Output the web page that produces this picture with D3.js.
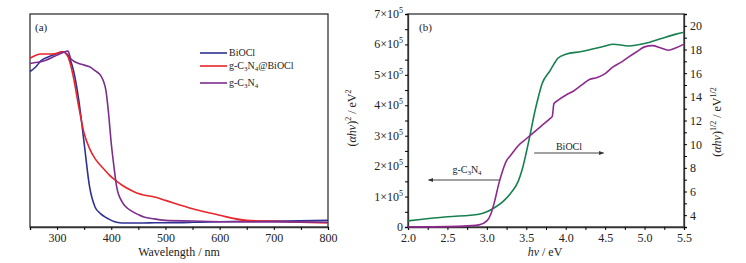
<!DOCTYPE html>
<html>
<head>
<meta charset="utf-8">
<script src="https://cdn.jsdelivr.net/npm/d3@7"></script>
<style>
  body { margin: 0; background: #fff; }
  text { font-family: "Liberation Serif", "Times New Roman", serif; fill: #222; }
</style>
</head>
<body>
<div id="chart"></div>
<script>
// panel (a): UV-vis absorbance, arbitrary units
const wl = [250, 260, 270, 290, 300, 310, 320, 325, 330, 340, 350, 360, 370, 380, 390, 395, 400, 405, 410, 420, 440, 450, 460, 480, 500, 550, 580, 600, 650, 700, 800];
const absBiOCl = [0.73, 0.75, 0.78, 0.805, 0.815, 0.823, 0.807, 0.78, 0.737, 0.596, 0.392, 0.188, 0.094, 0.063, 0.045, 0.038, 0.031, 0.026, 0.022, 0.019, 0.019, 0.019, 0.019, 0.02, 0.02, 0.022, 0.024, 0.025, 0.027, 0.028, 0.031];
const absComposite = [0.792, 0.805, 0.812, 0.812, 0.815, 0.823, 0.8, 0.76, 0.705, 0.564, 0.439, 0.368, 0.321, 0.29, 0.262, 0.248, 0.235, 0.225, 0.215, 0.196, 0.168, 0.157, 0.15, 0.141, 0.125, 0.086, 0.067, 0.055, 0.031, 0.027, 0.019];
const absGCN = [0.768, 0.772, 0.776, 0.795, 0.807, 0.818, 0.826, 0.792, 0.78, 0.768, 0.76, 0.752, 0.734, 0.713, 0.643, 0.533, 0.392, 0.282, 0.188, 0.118, 0.071, 0.058, 0.047, 0.038, 0.031, 0.028, 0.026, 0.025, 0.024, 0.024, 0.022];

// panel (b): Tauc plots
const evBi = [2.0, 2.5, 2.9, 3.0, 3.1, 3.2, 3.3, 3.4, 3.45, 3.5, 3.55, 3.6, 3.65, 3.7, 3.8, 3.85, 3.9, 4.0, 4.2, 4.5, 4.6, 4.8, 5.0, 5.2, 5.4, 5.5];
const taucBiOCl = [3.52, 3.86, 4.08, 4.28, 4.65, 5.13, 5.83, 6.9, 7.9, 9.3, 10.85, 12.5, 13.9, 15.1, 16.2, 16.76, 17.26, 17.6, 17.83, 18.3, 18.45, 18.3, 18.5, 18.9, 19.3, 19.45];
const evCN = [2.0, 2.7, 2.9, 3.0, 3.05, 3.1, 3.15, 3.2, 3.25, 3.3, 3.4, 3.5, 3.6, 3.7, 3.8, 3.83, 3.85, 3.9, 4.0, 4.1, 4.2, 4.3, 4.4, 4.5, 4.6, 4.7, 4.8, 4.9, 5.0, 5.1, 5.2, 5.3, 5.4, 5.5];
const taucGCN = [0, 0.03, 0.07, 0.2, 0.42, 0.86, 1.41, 1.85, 2.18, 2.35, 2.68, 2.9, 3.12, 3.34, 3.56, 3.64, 4.05, 4.16, 4.33, 4.47, 4.66, 4.85, 4.91, 5.04, 5.26, 5.41, 5.59, 5.76, 5.92, 5.96, 5.89, 5.81, 5.89, 6.01];

const wlTicks = [300, 400, 500, 600, 700, 800];
const evTicks = [2.0, 2.5, 3.0, 3.5, 4.0, 4.5, 5.0, 5.5];
const leftTicks = [0, 1, 2, 3, 4, 5, 6, 7];
const rightTicks = [4, 6, 8, 10, 12, 14, 16, 18, 20];

const legendItems = [
  { name: "BiOCl", color: "#2e3192" },
  { name: "composite", color: "#e8262b" },
  { name: "gcn", color: "#7b2e8e" }
];

const svg = d3.select("#chart").append("svg")
  .attr("width", 746).attr("height", 263);

// writes g-C3N4 with subscripts into a text element
function gcn(t, sub) {
  t.append("tspan").text("g-C");
  t.append("tspan").attr("font-size", sub).attr("dy", 2).text("3");
  t.append("tspan").attr("dy", -2).text("N");
  t.append("tspan").attr("font-size", sub).attr("dy", 2).text("4");
  return t;
}

// ---------- panel (a)
const a = { left: 30, right: 328, top: 14, bottom: 227 };
const xa = d3.scaleLinear().domain([250, 800]).range([a.left, a.right]);
const ya = d3.scaleLinear().domain([0, 1]).range([a.bottom, a.top]);

const ga = svg.append("g");
ga.append("rect")
  .attr("x", a.left).attr("y", a.top)
  .attr("width", a.right - a.left).attr("height", a.bottom - a.top)
  .attr("fill", "none").attr("stroke", "#333").attr("stroke-width", 1.3);

ga.append("g")
  .attr("transform", `translate(0,${a.bottom})`)
  .call(d3.axisBottom(xa).tickValues(d3.range(250, 801, 50)).tickSize(3)
    .tickFormat(d => wlTicks.includes(d) ? d : ""))
  .call(g => g.select(".domain").attr("stroke", "#333").attr("stroke-width", 1.3))
  .call(g => g.selectAll("text").attr("font-size", 12));

ga.append("text").attr("x", (a.left + a.right) / 2).attr("y", 256)
  .attr("text-anchor", "middle").attr("font-size", 12).text("Wavelength / nm");
ga.append("text").attr("x", 35).attr("y", 31).attr("font-size", 11).text("(a)");

const lineA = ys => d3.line().x((d, i) => xa(wl[i])).y(d => ya(d)).curve(d3.curveMonotoneX)(ys);
[absBiOCl, absComposite, absGCN].forEach((ys, k) => {
  ga.append("path").attr("d", lineA(ys))
    .attr("fill", "none").attr("stroke", legendItems[k].color).attr("stroke-width", 1.6);
});

// legend
const legY = [53, 66, 83];
legendItems.forEach((it, i) => {
  ga.append("line").attr("x1", 200).attr("x2", 227).attr("y1", legY[i]).attr("y2", legY[i])
    .attr("stroke", it.color).attr("stroke-width", 1.6);
});
ga.append("text").attr("x", 229).attr("y", legY[0] + 3).attr("font-size", 10).text("BiOCl");
const t2 = gcn(ga.append("text").attr("x", 229).attr("y", legY[1] + 3).attr("font-size", 10), 7);
t2.append("tspan").attr("dy", -2).text("@BiOCl");
gcn(ga.append("text").attr("x", 229).attr("y", legY[2] + 3).attr("font-size", 10), 7);

// ---------- panel (b)
const b = { left: 408, right: 684, top: 14, bottom: 227 };
const xb = d3.scaleLinear().domain([2.0, 5.5]).range([b.left, b.right]);
const yl = d3.scaleLinear().domain([0, 7]).range([b.bottom, b.top]);
const yr = d3.scaleLinear().domain([3, 21]).range([b.bottom, b.top]);

const gb = svg.append("g");
gb.append("rect")
  .attr("x", b.left).attr("y", b.top)
  .attr("width", b.right - b.left).attr("height", b.bottom - b.top)
  .attr("fill", "none").attr("stroke", "#333").attr("stroke-width", 1.3);

gb.append("g")
  .attr("transform", `translate(0,${b.bottom})`)
  .call(d3.axisBottom(xb).tickValues(d3.range(2.0, 5.51, 0.25)).tickSize(3)
    .tickFormat(d => evTicks.some(t => Math.abs(t - d) < 1e-6) ? d.toFixed(1) : ""))
  .call(g => g.select(".domain").attr("stroke", "#333").attr("stroke-width", 1.3))
  .call(g => g.selectAll("text").attr("font-size", 12));

const axL = gb.append("g")
  .attr("transform", `translate(${b.left},0)`)
  .call(d3.axisLeft(yl).tickValues(d3.range(0, 7.01, 0.5)).tickSize(3).tickFormat(""))
  .call(g => g.select(".domain").attr("stroke", "#333").attr("stroke-width", 1.3));
leftTicks.forEach(v => {
  const t = axL.append("text").attr("x", -5).attr("y", yl(v) + 4)
    .attr("text-anchor", "end").attr("font-size", 12);
  if (v === 0) { t.text("0"); return; }
  t.append("tspan").text(v + "\u00d710");
  t.append("tspan").attr("font-size", 8).attr("dy", -5).text("5");
});

gb.append("g")
  .attr("transform", `translate(${b.right},0)`)
  .call(d3.axisRight(yr).tickValues(d3.range(3, 21.01, 1)).tickSize(3)
    .tickFormat(d => rightTicks.includes(d) ? d : ""))
  .call(g => g.select(".domain").attr("stroke", "#333").attr("stroke-width", 1.3))
  .call(g => g.selectAll("text").attr("font-size", 12));

const xt = gb.append("text").attr("x", 545).attr("y", 256)
  .attr("text-anchor", "middle").attr("font-size", 12);
xt.append("tspan").attr("font-style", "italic").text("hv");
xt.append("tspan").text(" / eV");

const ylT = gb.append("text").attr("transform", "translate(356,118) rotate(-90)")
  .attr("text-anchor", "middle").attr("font-size", 12);
ylT.append("tspan").text("(");
ylT.append("tspan").attr("font-style", "italic").text("\u03b1hv");
ylT.append("tspan").text(")");
ylT.append("tspan").attr("font-size", 8).attr("dy", -5).text("2");
ylT.append("tspan").attr("dy", 5).text(" / eV");
ylT.append("tspan").attr("font-size", 8).attr("dy", -5).text("2");

const yrT = gb.append("text").attr("transform", "translate(721,122) rotate(-90)")
  .attr("text-anchor", "middle").attr("font-size", 12);
yrT.append("tspan").text("(");
yrT.append("tspan").attr("font-style", "italic").text("\u03b1hv");
yrT.append("tspan").text(")");
yrT.append("tspan").attr("font-size", 8).attr("dy", -5).text("1/2");
yrT.append("tspan").attr("dy", 5).text(" / eV");
yrT.append("tspan").attr("font-size", 8).attr("dy", -5).text("1/2");

gb.append("text").attr("x", 419).attr("y", 31).attr("font-size", 11).text("(b)");

gb.append("path")
  .attr("d", d3.line().x((d, i) => xb(evBi[i])).y(d => yr(d)).curve(d3.curveMonotoneX)(taucBiOCl))
  .attr("fill", "none").attr("stroke", "#17804f").attr("stroke-width", 1.6);
gb.append("path")
  .attr("d", d3.line().x((d, i) => xb(evCN[i])).y(d => yl(d)).curve(d3.curveMonotoneX)(taucGCN))
  .attr("fill", "none").attr("stroke", "#8e2a8e").attr("stroke-width", 1.6);

// arrows
const defs = svg.append("defs");
defs.append("marker").attr("id", "arr").attr("viewBox", "0 0 10 10")
  .attr("refX", 9).attr("refY", 5).attr("markerWidth", 7).attr("markerHeight", 5)
  .attr("orient", "auto")
  .append("path").attr("d", "M0,1 L10,5 L0,9 Z").attr("fill", "#333");

gb.append("line").attr("x1", xb(3.16)).attr("x2", xb(2.26)).attr("y1", 180).attr("y2", 180)
  .attr("stroke", "#444").attr("stroke-width", 1).attr("marker-end", "url(#arr)");
gb.append("line").attr("x1", xb(3.6)).attr("x2", xb(4.48)).attr("y1", 153).attr("y2", 153)
  .attr("stroke", "#444").attr("stroke-width", 1).attr("marker-end", "url(#arr)");

gcn(gb.append("text").attr("x", 467).attr("y", 173).attr("text-anchor", "middle").attr("font-size", 10), 7);
gb.append("text").attr("x", 569).attr("y", 150).attr("text-anchor", "middle").attr("font-size", 10).text("BiOCl");
</script>
</body>
</html>
